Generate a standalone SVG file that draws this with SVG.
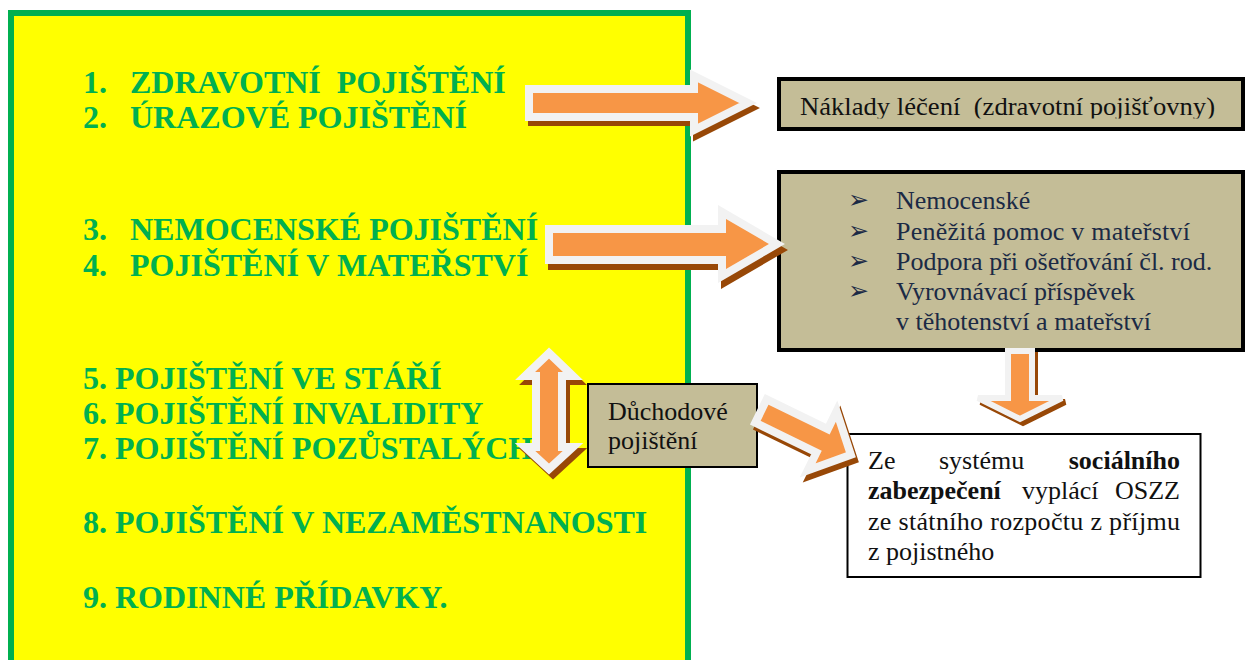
<svg xmlns="http://www.w3.org/2000/svg" xmlns:xlink="http://www.w3.org/1999/xlink" width="1246" height="660" viewBox="0 0 1246 660">
<style>
.green{font-family:"Liberation Serif","Times New Roman",serif;font-weight:bold;font-size:32px;fill:#00B050}
.serif{font-family:"Liberation Serif","Times New Roman",serif;font-size:26px;fill:#111}
.navy{fill:#1b2a45}
.bul{font-family:"DejaVu Sans",sans-serif;font-size:25px;fill:#1b2a45}
.b{font-weight:bold}
.tan{fill:#C4BD97;stroke:#000}
.arrow{fill:#F79646;stroke:#F2F2F2;stroke-width:8;stroke-linejoin:miter}
.shadow{fill:#984807;stroke:#984807;stroke-width:8;stroke-linejoin:miter}
</style>
<defs>
<clipPath id="clipN"><rect x="781" y="81" width="460" height="37.5"/></clipPath>
<polygon id="a1" points="529,89 694,89 694,76 748,103 694,130 694,117 529,117"/>
<polygon id="a2" points="549,229 722,229 722,212 777,244 722,276 722,260 549,260"/>
<polygon id="a3" points="549,353 573,376 562,376 562,447 573,447 549,469 525,447 536,447 536,376 525,376"/>
<polygon id="a4" points="0,-13 68,-13 68,-33 100,0 68,33 68,13 0,13" transform="translate(761,411) rotate(26)"/>
<polygon id="a5" points="1008,351 1032,351 1032,398 1062,398 1020,419 978,398 1008,398"/>
</defs>
<rect width="1246" height="660" fill="#fff"/>

<g id="insurance-list">
<rect x="11" y="13" width="677" height="700" fill="#FFFF00" stroke="#00B050" stroke-width="6"/>
<text class="green" x="83" y="93">1.</text><text class="green" x="130" y="93">ZDRAVOTNÍ&#160; POJIŠTĚNÍ</text>
<text class="green" x="83" y="128">2.</text><text class="green" x="130" y="128">ÚRAZOVÉ POJIŠTĚNÍ</text>
<text class="green" x="83" y="240">3.</text><text class="green" x="130" y="240">NEMOCENSKÉ POJIŠTĚNÍ</text>
<text class="green" x="83" y="276">4.</text><text class="green" x="130" y="276">POJIŠTĚNÍ V MATEŘSTVÍ</text>
<text class="green" x="83" y="389">5. POJIŠTĚNÍ VE STÁŘÍ</text>
<text class="green" x="83" y="424">6. POJIŠTĚNÍ INVALIDITY</text>
<text class="green" x="83" y="459">7. POJIŠTĚNÍ POZŮSTALÝCH</text>
<text class="green" x="83" y="533">8. POJIŠTĚNÍ V NEZAMĚSTNANOSTI</text>
<text class="green" x="83" y="608">9. RODINNÉ PŘÍDAVKY.</text>
</g>

<g id="naklady">
<rect class="tan" x="779" y="79" width="464" height="50" stroke-width="4"/>
<text class="serif" x="800" y="115" font-size="26.5" textLength="415" lengthAdjust="spacingAndGlyphs" clip-path="url(#clipN)">Náklady léčení&#160; (zdravotní pojišťovny)</text>
</g>

<g id="davky">
<rect class="tan" x="779" y="172" width="464" height="178" stroke-width="4"/>
<text class="bul" x="848" y="208">➢</text>
<text class="serif navy" x="896" y="209">Nemocenské</text>
<text class="bul" x="848" y="239">➢</text>
<text class="serif navy" x="896" y="240" textLength="294">Peněžitá pomoc v mateřství</text>
<text class="bul" x="848" y="269">➢</text>
<text class="serif navy" x="896" y="270">Podpora při ošetřování čl. rod.</text>
<text class="bul" x="848" y="299">➢</text>
<text class="serif navy" x="896" y="300">Vyrovnávací příspěvek</text>
<text class="serif navy" x="896" y="330">v těhotenství a mateřství</text>
</g>

<g id="duchodove">
<rect class="tan" x="588" y="384" width="169" height="83" stroke-width="2"/>
<text class="serif" x="608" y="420">Důchodové</text>
<text class="serif" x="608" y="449">pojištění</text>
</g>

<g id="socialni">
<rect x="847.5" y="434" width="353" height="143" fill="#fff" stroke="#000" stroke-width="2"/>
<text class="serif" x="868" y="469">Ze</text>
<text class="serif" x="939" y="469">systému</text>
<text class="serif b" x="1180" y="469" text-anchor="end">sociálního</text>
<text class="serif b" x="868" y="499">zabezpečení</text>
<text class="serif" x="1022" y="499">vyplácí</text>
<text class="serif" x="1180" y="499" text-anchor="end">OSZZ</text>
<text class="serif" x="868" y="530" textLength="312" lengthAdjust="spacing">ze státního rozpočtu z příjmu</text>
<text class="serif" x="868" y="560">z pojistného</text>
</g>

<g id="connectors">
<use xlink:href="#a1" class="shadow" transform="translate(3,5)"/>
<use xlink:href="#a1" class="arrow"/>
<use xlink:href="#a2" class="shadow" transform="translate(3,6)"/>
<use xlink:href="#a2" class="arrow"/>
<use xlink:href="#a3" class="shadow" transform="translate(4,5)"/>
<use xlink:href="#a3" class="arrow"/>
<use xlink:href="#a4" class="shadow" transform="translate(3,5)"/>
<use xlink:href="#a4" class="arrow"/>
<use xlink:href="#a5" class="shadow" style="stroke-width:6" transform="translate(3,4)"/>
<use xlink:href="#a5" class="arrow" style="stroke-width:6"/>
</g>
</svg>
